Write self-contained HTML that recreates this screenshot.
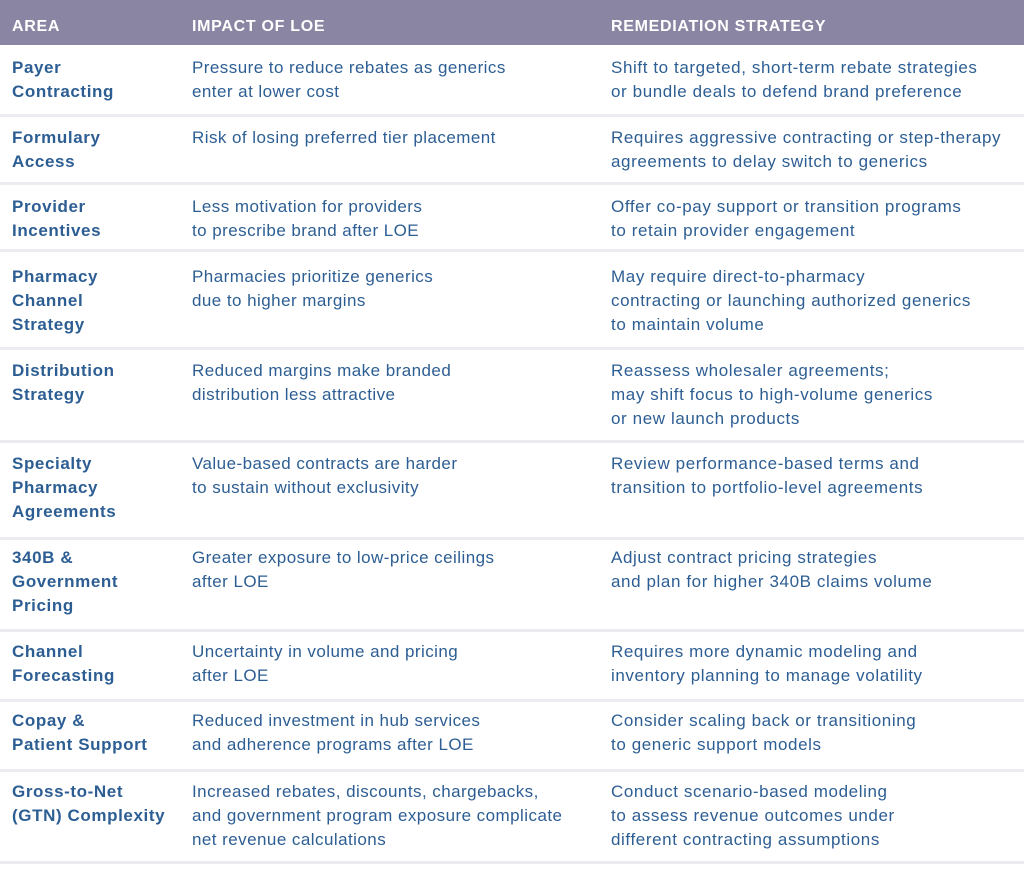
<!DOCTYPE html>
<html><head><meta charset="utf-8"><style>
body{margin:0;width:1024px;height:884px;background:#fff;position:relative;overflow:hidden;font-family:"Liberation Sans",sans-serif;}
.h{position:absolute;left:0;top:0;width:1024px;height:45px;background:#8a85a3;}
.ht{position:absolute;top:15px;color:#fff;font-weight:bold;font-size:16px;line-height:24px;letter-spacing:0.7px;}
.sep{position:absolute;left:0;width:1024px;height:3px;background:#ececf0;}
.t{position:absolute;color:#2d5e93;font-size:17px;line-height:24px;white-space:nowrap;letter-spacing:0.45px;}
.a{left:12px;font-weight:bold;letter-spacing:0.6px;}
.b{left:192px;}
.c{left:611px;letter-spacing:0.6px;}
</style></head><body>
<div class="h"></div>
<div class="ht" style="left:12px">AREA</div>
<div class="ht" style="left:192px">IMPACT OF LOE</div>
<div class="ht" style="left:611px">REMEDIATION STRATEGY</div>

<div class="sep" style="top:114px"></div>
<div class="sep" style="top:182px"></div>
<div class="sep" style="top:249px"></div>
<div class="sep" style="top:347px"></div>
<div class="sep" style="top:440px"></div>
<div class="sep" style="top:537px"></div>
<div class="sep" style="top:629px"></div>
<div class="sep" style="top:699px"></div>
<div class="sep" style="top:769px"></div>
<div class="sep" style="top:861px"></div>

<div class="t a" style="top:56px">Payer<br>Contracting</div>
<div class="t b" style="top:56px">Pressure to reduce rebates as generics<br>enter at lower cost</div>
<div class="t c" style="top:56px">Shift to targeted, short-term rebate strategies<br>or bundle deals to defend brand preference</div>

<div class="t a" style="top:126px">Formulary<br>Access</div>
<div class="t b" style="top:126px">Risk of losing preferred tier placement</div>
<div class="t c" style="top:126px">Requires aggressive contracting or step-therapy<br>agreements to delay switch to generics</div>

<div class="t a" style="top:195px">Provider<br>Incentives</div>
<div class="t b" style="top:195px">Less motivation for providers<br>to prescribe brand after LOE</div>
<div class="t c" style="top:195px">Offer co-pay support or transition programs<br>to retain provider engagement</div>

<div class="t a" style="top:265px">Pharmacy<br>Channel<br>Strategy</div>
<div class="t b" style="top:265px">Pharmacies prioritize generics<br>due to higher margins</div>
<div class="t c" style="top:265px">May require direct-to-pharmacy<br>contracting or launching authorized generics<br>to maintain volume</div>

<div class="t a" style="top:359px">Distribution<br>Strategy</div>
<div class="t b" style="top:359px">Reduced margins make branded<br>distribution less attractive</div>
<div class="t c" style="top:359px">Reassess wholesaler agreements;<br>may shift focus to high-volume generics<br>or new launch products</div>

<div class="t a" style="top:452px">Specialty<br>Pharmacy<br>Agreements</div>
<div class="t b" style="top:452px">Value-based contracts are harder<br>to sustain without exclusivity</div>
<div class="t c" style="top:452px">Review performance-based terms and<br>transition to portfolio-level agreements</div>

<div class="t a" style="top:546px">340B &amp;<br>Government<br>Pricing</div>
<div class="t b" style="top:546px">Greater exposure to low-price ceilings<br>after LOE</div>
<div class="t c" style="top:546px">Adjust contract pricing strategies<br>and plan for higher 340B claims volume</div>

<div class="t a" style="top:640px">Channel<br>Forecasting</div>
<div class="t b" style="top:640px">Uncertainty in volume and pricing<br>after LOE</div>
<div class="t c" style="top:640px">Requires more dynamic modeling and<br>inventory planning to manage volatility</div>

<div class="t a" style="top:709px">Copay &amp;<br>Patient Support</div>
<div class="t b" style="top:709px">Reduced investment in hub services<br>and adherence programs after LOE</div>
<div class="t c" style="top:709px">Consider scaling back or transitioning<br>to generic support models</div>

<div class="t a" style="top:780px">Gross-to-Net<br>(GTN) Complexity</div>
<div class="t b" style="top:780px">Increased rebates, discounts, chargebacks,<br>and government program exposure complicate<br>net revenue calculations</div>
<div class="t c" style="top:780px">Conduct scenario-based modeling<br>to assess revenue outcomes under<br>different contracting assumptions</div>
</body></html>
